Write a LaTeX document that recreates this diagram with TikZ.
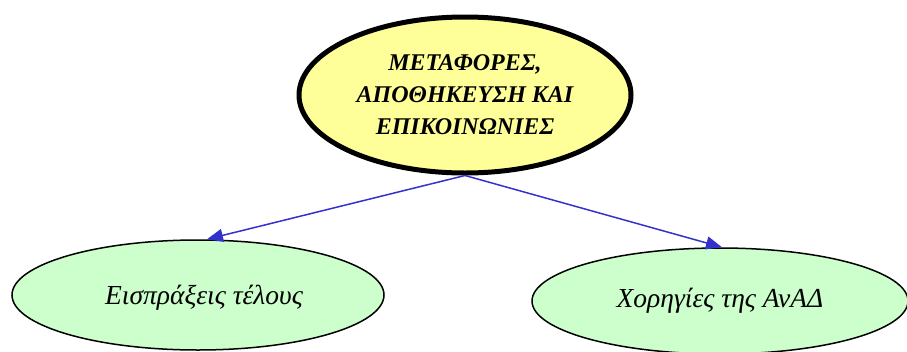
\documentclass[tikz,border=0pt]{standalone}
\usepackage{fontspec}
\setmainfont{Liberation Serif}
\usetikzlibrary{shapes.geometric,arrows.meta}
\definecolor{topfill}{HTML}{FFFF99}
\definecolor{leaffill}{HTML}{CCFFCC}
\definecolor{edgeblue}{HTML}{3333CC}
\tikzset{
  topnode/.style={ellipse,draw=black,line width=5pt,fill=topfill,minimum width=332pt,minimum height=156pt,inner sep=0pt,align=center,font=\fontsize{24}{32}\selectfont\bfseries\itshape},
  leafnode/.style={ellipse,draw=black,line width=1.5pt,fill=leaffill,inner sep=0pt,font=\fontsize{27.5}{30}\selectfont\itshape},
  edgearrow/.style={draw=edgeblue,line width=1.5pt,-{Triangle[length=16pt,width=13pt]}}
}
\begin{document}
\begin{tikzpicture}[x=1pt,y=-1pt]
\useasboundingbox (0,0) rectangle (907,351);
\node[topnode] (top) at (465,95) {ΜΕΤΑΦΟΡΕΣ,\\ΑΠΟΘΗΚΕΥΣΗ ΚΑΙ\\ΕΠΙΚΟΙΝΩΝΙΕΣ};
\node[leafnode,minimum width=372pt,minimum height=110pt,text depth=0pt] (left) at (198,295) {\hspace*{12pt}Εισπράξεις τέλους};
\node[leafnode,minimum width=376pt,minimum height=106pt] (right) at (720,301) {Χορηγίες της ΑνΑΔ};
\draw[edgearrow] (top.south) -- ([xshift=9pt]left.north);
\draw[edgearrow] (top.south) -- ([xshift=2pt]right.north);
\end{tikzpicture}
\end{document}
